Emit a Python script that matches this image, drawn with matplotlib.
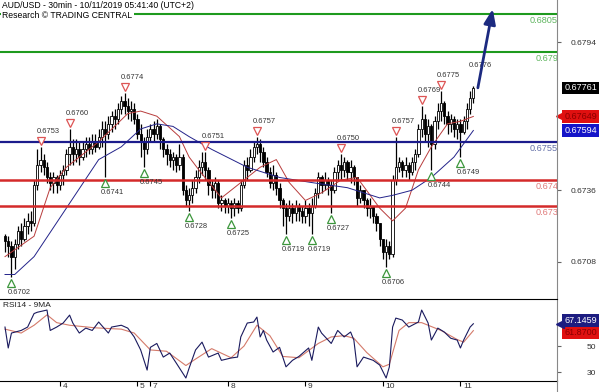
import matplotlib
matplotlib.use('Agg')
import matplotlib.pyplot as plt
import numpy as np
from matplotlib.transforms import offset_copy, ScaledTranslation
from matplotlib.lines import Line2D

plt.rcParams['font.family'] = ['Liberation Sans', 'DejaVu Sans']

TITLE = 'AUD/USD - 30min - 10/11/2019 05:41:40 (UTC+2)'
SOURCE = 'Research \u00a9 TRADING CENTRAL'

# price candles (one candle per ~hour of the 30min chart)
first_open = 0.6718
close = [0.6716, 0.6714, 0.6710, 0.6715, 0.6720, 0.6717, 0.6722, 0.6724, 0.6723, 0.6738,
         0.6746, 0.6748, 0.6745, 0.6741, 0.6739, 0.6741, 0.6738, 0.6742, 0.6744, 0.6750,
         0.6753, 0.6750, 0.6752, 0.6749, 0.6752, 0.6754, 0.6752, 0.6755, 0.6753, 0.6757,
         0.6760, 0.6758, 0.6762, 0.6765, 0.6764, 0.6768, 0.6771, 0.6769, 0.6767, 0.6768,
         0.6764, 0.6758, 0.6755, 0.6752, 0.6757, 0.6760, 0.6758, 0.6761, 0.6756, 0.6752,
         0.6750, 0.6748, 0.6749, 0.6746, 0.6749, 0.6736, 0.6732, 0.6734, 0.6737, 0.6741,
         0.6745, 0.6747, 0.6744, 0.6738, 0.6736, 0.6739, 0.6731, 0.6732, 0.6730, 0.6731,
         0.6729, 0.6731, 0.6729, 0.6738, 0.6746, 0.6744, 0.6749, 0.6753, 0.6754, 0.6751,
         0.6747, 0.6743, 0.6739, 0.6742, 0.6737, 0.6732, 0.6729, 0.6726, 0.6729, 0.6727,
         0.6730, 0.6728, 0.6726, 0.6729, 0.6727, 0.6730, 0.6735, 0.6741, 0.6738, 0.6740,
         0.6738, 0.6736, 0.6743, 0.6746, 0.6744, 0.6747, 0.6743, 0.6745, 0.6741, 0.6733,
         0.6736, 0.6732, 0.6729, 0.6730, 0.6726, 0.6723, 0.6717, 0.6712, 0.6714, 0.6711,
         0.6740, 0.6745, 0.6747, 0.6744, 0.6746, 0.6743, 0.6747, 0.6750, 0.6760, 0.6764,
         0.6758, 0.6761, 0.6754, 0.6763, 0.6767, 0.6770, 0.6765, 0.6762, 0.6764, 0.6760,
         0.6762, 0.6759, 0.6763, 0.6768, 0.6772, 0.67761]
high = [0.6719, 0.6718, 0.6716, 0.6717, 0.6722, 0.6723, 0.6725, 0.6727, 0.6728, 0.6740,
        0.6752, 0.6753, 0.6750, 0.6747, 0.6743, 0.6743, 0.6742, 0.6744, 0.6746, 0.6752,
        0.6760, 0.6756, 0.6756, 0.6755, 0.6755, 0.6757, 0.6757, 0.6758, 0.6758, 0.6760,
        0.6763, 0.6763, 0.6765, 0.6767, 0.6768, 0.6770, 0.6773, 0.6774, 0.6772, 0.6771,
        0.6770, 0.6766, 0.6762, 0.6757, 0.6760, 0.6762, 0.6763, 0.6764, 0.6762, 0.6757,
        0.6754, 0.6752, 0.6751, 0.6750, 0.6754, 0.6750, 0.6738, 0.6737, 0.6740, 0.6744,
        0.6748, 0.6751, 0.6751, 0.6745, 0.6740, 0.6741, 0.6740, 0.6734, 0.6733, 0.6733,
        0.6732, 0.6733, 0.6732, 0.6740, 0.6748, 0.6749, 0.6752, 0.6755, 0.6757, 0.6756,
        0.6753, 0.6749, 0.6745, 0.6746, 0.6743, 0.6739, 0.6733, 0.6731, 0.6732, 0.6731,
        0.6732, 0.6731, 0.6730, 0.6732, 0.6731, 0.6733, 0.6737, 0.6743, 0.6742, 0.6743,
        0.6741, 0.6740, 0.6745, 0.6748, 0.6750, 0.6749, 0.6748, 0.6748, 0.6746, 0.6741,
        0.6738, 0.6736, 0.6733, 0.6733, 0.6730, 0.6727, 0.6723, 0.6717, 0.6717, 0.6716,
        0.6742, 0.6757, 0.6749, 0.6748, 0.6749, 0.6747, 0.6749, 0.6752, 0.6762, 0.6769,
        0.6766, 0.6764, 0.6762, 0.6765, 0.6770, 0.6775, 0.6771, 0.6767, 0.6766, 0.6765,
        0.6764, 0.6764, 0.6765, 0.6770, 0.6775, 0.6777]
low = [0.6712, 0.6710, 0.6702, 0.6705, 0.6713, 0.6714, 0.6716, 0.6719, 0.6720, 0.6722,
       0.6736, 0.6743, 0.6742, 0.6739, 0.6736, 0.6735, 0.6735, 0.6736, 0.6738, 0.6742,
       0.6746, 0.6746, 0.6747, 0.6746, 0.6748, 0.6749, 0.6750, 0.6750, 0.6751, 0.6752,
       0.6753, 0.6741, 0.6756, 0.6759, 0.6760, 0.6762, 0.6766, 0.6766, 0.6764, 0.6763,
       0.6762, 0.6756, 0.6749, 0.6745, 0.6750, 0.6755, 0.6755, 0.6756, 0.6752, 0.6749,
       0.6746, 0.6745, 0.6744, 0.6743, 0.6744, 0.6734, 0.6730, 0.6728, 0.6731, 0.6735,
       0.6739, 0.6742, 0.6740, 0.6734, 0.6733, 0.6733, 0.6729, 0.6728, 0.6727, 0.6727,
       0.6725, 0.6726, 0.6727, 0.6728, 0.6737, 0.6740, 0.6743, 0.6747, 0.6750, 0.6747,
       0.6745, 0.6741, 0.6737, 0.6736, 0.6734, 0.6729, 0.6722, 0.6719, 0.6724, 0.6723,
       0.6724, 0.6724, 0.6723, 0.6723, 0.6722, 0.6719, 0.6729, 0.6733, 0.6735, 0.6736,
       0.6734, 0.6727, 0.6735, 0.6740, 0.6740, 0.6741, 0.6740, 0.6739, 0.6738, 0.6730,
       0.6731, 0.6729, 0.6726, 0.6725, 0.6723, 0.6720, 0.6714, 0.6709, 0.6706, 0.6709,
       0.6710, 0.6738, 0.6743, 0.6741, 0.6741, 0.6740, 0.6742, 0.6744, 0.6749, 0.6757,
       0.6755, 0.6753, 0.6744, 0.6752, 0.6760, 0.6763, 0.6762, 0.6758, 0.6759, 0.6757,
       0.6756, 0.6749, 0.6758, 0.6760, 0.6766, 0.6770]

# moving averages drawn on the price panel
ma_red_idx = [0, 9, 14, 19, 29, 38, 42, 47, 54, 57, 60, 67, 79, 84, 88, 93, 98, 104,
              109, 116, 120, 124, 128, 132, 137, 141, 145]
ma_red_val = [0.6710, 0.6718, 0.6737, 0.6745, 0.6755, 0.6766, 0.6767, 0.6765, 0.6757,
              0.6749, 0.6744, 0.6733, 0.6745, 0.6748, 0.6739, 0.6732, 0.6735, 0.6740,
              0.6741, 0.6729, 0.6724, 0.6729, 0.6744, 0.6753, 0.6762, 0.6763, 0.67649]
ma_blue_idx = [0, 3, 9, 19, 29, 36, 42, 47, 52, 57, 64, 75, 85, 95, 106, 116, 120, 126,
               132, 139, 145]
ma_blue_val = [0.6703, 0.6703, 0.6710, 0.6729, 0.6748, 0.6753, 0.6760, 0.6762, 0.6761,
               0.6757, 0.6752, 0.6745, 0.6741, 0.6739, 0.6737, 0.6733, 0.6734, 0.6736,
               0.6741, 0.6749, 0.67594]

# swing highs / lows marked on the chart
peak_idx = [11, 20, 37, 62, 78, 104, 121, 129, 135]
peak_val = [0.6753, 0.6760, 0.6774, 0.6751, 0.6757, 0.6750, 0.6757, 0.6769, 0.6775]
trough_idx = [2, 31, 43, 57, 70, 87, 95, 101, 118, 132, 141]
trough_val = [0.6702, 0.6741, 0.6745, 0.6728, 0.6725, 0.6719, 0.6719, 0.6727, 0.6706,
              0.6744, 0.6749]
last_label = '0.6776'

# key levels
res_levels = [0.6805, 0.6790]
pivot = 0.6755
sup_levels = [0.6740, 0.6730]
target = 0.6807

# RSI(14) and its 9-period average
rsi_idx = [0, 1, 2, 5, 7, 9, 10, 13, 14, 16, 18, 20, 21, 23, 25, 27, 29, 32, 33, 36,
           38, 40, 42, 44, 45, 47, 49, 51, 53, 56, 57, 59, 61, 63, 66, 67, 70, 72, 73,
           75, 77, 78, 79, 80, 81, 83, 85, 87, 89, 91, 94, 95, 97, 98, 101, 103, 105,
           107, 108, 109, 111, 114, 116, 118, 119, 120, 121, 123, 125, 128, 129, 131,
           132, 134, 136, 138, 140, 141, 142, 144, 145]
rsi_val = [64.6, 48.5, 60, 62, 64.6, 75, 76, 77.7, 62, 64.6, 67.7, 73.8, 67.7, 60, 63.8,
           62, 68.5, 60, 64.6, 66, 63.8, 57, 47, 31.5, 49, 52, 41.5, 44.6, 37, 25.4, 33,
           47, 53, 41.5, 44.6, 39, 40.8, 41.5, 57, 67.7, 68.5, 72.3, 57, 62, 54.6, 45.4,
           49, 34, 39, 42, 48.5, 39, 64.6, 60, 52, 62, 57, 60.8, 54.6, 34, 41.5, 39,
           35.4, 25.4, 34, 64.6, 71.5, 70, 64.6, 68.5, 77.7, 67.7, 54.6, 63.8, 60.8, 56,
           54.6, 48.5, 54.6, 64.6, 67.1459]
rsi_ma_idx = [0, 5, 9, 13, 16, 20, 28, 36, 40, 45, 50, 56, 59, 64, 70, 74, 78, 82, 86,
              91, 97, 101, 105, 108, 112, 117, 119, 122, 125, 129, 135, 140, 142, 145]
rsi_ma_val = [63, 60, 66, 74, 68, 66, 64, 63, 60, 47, 46, 35, 40, 48, 41, 50, 66, 58,
              42, 41, 52, 57, 58, 56, 45, 34, 36, 62, 68, 68, 62, 55, 53, 61.87]

price_ticks = [0.6794, 0.6736, 0.6708]
rsi_ticks = [30, 50]
day_idx = [17, 41, 45, 69, 93, 117, 141]
day_lbl = ['4', '5', '7', '8', '9', '10', '11']


def level_text(v):
    return ('%.4f' % v).rstrip('0')


fig = plt.figure(figsize=(6, 3.92), dpi=100)
ax = fig.add_axes([0, 0.2385, 557 / 600, 0.7615])
ax2 = fig.add_axes([0, 0.02806, 557 / 600, 0.2092])

# candles
c = np.array(close)
o = np.array([first_open] + close[:-1])
idx = np.arange(len(c))
up = c >= o
ax.vlines(idx, low, high, color='black', lw=0.9, zorder=2)
ax.bar(idx[up], (c - o)[up], bottom=o[up], width=0.7, color='white',
       edgecolor='black', lw=0.6, zorder=2)
ax.bar(idx[~up], (o - c)[~up], bottom=c[~up], width=0.7, color='black',
       edgecolor='black', lw=0.6, zorder=2)

ax.plot(ma_red_idx, ma_red_val, color='#b83c3c', lw=0.7, zorder=3)
ax.plot(ma_blue_idx, ma_blue_val, color='#23238a', lw=0.7, zorder=3)

for v in res_levels:
    ax.axhline(v, color='#1e9a1e', lw=1.5, zorder=4)
ax.axhline(pivot, color='#1c1c8c', lw=1.6, zorder=4)
for v in sup_levels:
    ax.axhline(v, color='#d42a2a', lw=1.8, zorder=4)

# level labels, right aligned under each line
yax = ax.get_yaxis_transform()
lbl_down = offset_copy(yax, fig=fig, y=-2, units='dots')
for v in res_levels:
    ax.text(1.002, v, level_text(v), transform=lbl_down, color='#5fb55f', fontsize=6.6,
            va='top', ha='right', clip_on=True, zorder=5)
ax.text(1.002, pivot, level_text(pivot), transform=lbl_down, color='#6470a8',
        fontsize=6.6, va='top', ha='right', clip_on=True, zorder=5)
for v in sup_levels:
    ax.text(1.002, v, level_text(v), transform=lbl_down, color='#e07a7a', fontsize=6.6,
            va='top', ha='right', clip_on=True, zorder=5)

# swing markers
tri_up = offset_copy(ax.transData, fig=fig, y=6, units='dots')
txt_up = offset_copy(ax.transData, fig=fig, x=-4, y=12, units='dots')
tri_dn = offset_copy(ax.transData, fig=fig, y=-6, units='dots')
txt_dn = offset_copy(ax.transData, fig=fig, x=-4, y=-12, units='dots')
for i, v in zip(peak_idx, peak_val):
    ax.plot(i, v, marker='v', ms=6, mfc='white', mec='#dd5555', mew=0.9,
            transform=tri_up, zorder=5)
    ax.text(i, v, '%.4f' % v, transform=txt_up, fontsize=5.4, color='#333333',
            ha='left', va='bottom', zorder=5)
for i, v in zip(trough_idx, trough_val):
    ax.plot(i, v, marker='^', ms=6, mfc='white', mec='#3c963c', mew=0.9,
            transform=tri_dn, zorder=5, clip_on=True)
    ax.text(i, v, '%.4f' % v, transform=txt_dn, fontsize=5.4, color='#333333',
            ha='left', va='top', zorder=5, clip_on=True)
ax.text(len(close) - 1, high[-1], last_label, transform=offset_copy(
    ax.transData, fig=fig, x=-5, y=17, units='dots'),
    fontsize=5.4, color='#333333', ha='left', va='bottom', zorder=5)

# projection arrow
ax.annotate('', xy=(151, target), xytext=(146.4, close[-1]),
            arrowprops=dict(arrowstyle='-|>,head_length=0.9,head_width=0.35',
                            lw=2, color='#1c2a80', shrinkA=0, shrinkB=0), zorder=6)

ax.set_xlim(-1.55, 170.9)
ax.set_ylim(0.66936, 0.68105)
ax.set_xticks([])
ax.yaxis.tick_right()
ax.set_yticks(price_ticks)
ax.set_yticklabels(['%.4f' % v for v in price_ticks], ha='right')
ax.tick_params(axis='y', direction='out', length=3, width=0.8, color='#666666',
               labelsize=6.1, labelcolor='#333333', pad=25.5)
for s in ['top', 'left', 'bottom']:
    ax.spines[s].set_visible(False)
ax.spines['right'].set_color('#888888')

# boxed current values on the price scale
ax.text(1.013, close[-1], '%.5f' % close[-1], transform=yax, fontsize=6.5,
        color='white', va='center', ha='left', clip_on=False,
        bbox=dict(boxstyle='square,pad=0.2', fc='black', ec='none'))
ax.plot([1.006], [ma_red_val[-1]], marker='<', ms=6, color='#e01010', transform=yax,
        clip_on=False)
ax.text(1.013, ma_red_val[-1], '%.5f' % ma_red_val[-1], transform=yax, fontsize=6.5,
        color='#8a0000', va='center', ha='left', clip_on=False,
        bbox=dict(boxstyle='square,pad=0.2', fc='#e01010', ec='none'))
ax.text(1.013, ma_blue_val[-1], '%.5f' % ma_blue_val[-1], transform=yax, fontsize=6.5,
        color='white', va='center', ha='left', clip_on=False,
        bbox=dict(boxstyle='square,pad=0.2', fc='#1414c8', ec='none'))

# RSI panel
ax2.plot(rsi_idx, rsi_val, color='#1a1a5e', lw=0.8, zorder=3)
ax2.plot(rsi_ma_idx, rsi_ma_val, color='#d47a6a', lw=0.8, zorder=2)
ax2.set_xlim(-1.55, 170.9)
ax2.set_ylim(23.1, 86.2)
ax2.yaxis.tick_right()
ax2.set_yticks(rsi_ticks)
ax2.set_yticklabels([str(v) for v in rsi_ticks], ha='right')
ax2.tick_params(axis='y', direction='out', length=3, width=0.8, color='#666666',
                labelsize=6.1, labelcolor='#333333', pad=25.5)
ax2.set_xticks(day_idx)
ax2.set_xticklabels(day_lbl, ha='left')
ax2.tick_params(axis='x', direction='out', length=3.5, width=0.8, labelsize=6,
                labelcolor='#333333', pad=-1.8)
shift = ScaledTranslation(0.025, 0, fig.dpi_scale_trans)
for lab in ax2.get_xticklabels():
    lab.set_transform(lab.get_transform() + shift)
ax2.spines['left'].set_visible(False)
ax2.spines['right'].set_color('#888888')
ax2.text(0.005, 0.915, 'RSI14 - 9MA', transform=ax2.transAxes, fontsize=6,
         va='center', ha='left', color='#222222')

yax2 = ax2.get_yaxis_transform()
ax2.plot([1.006], [rsi_val[-1]], marker='<', ms=6, color='#1c1c80', transform=yax2,
         clip_on=False, zorder=6)
ax2.text(1.013, rsi_val[-1], '%.4f' % rsi_val[-1],
         transform=offset_copy(yax2, fig=fig, y=3, units='dots'), fontsize=6.5,
         color='white', va='center', ha='left', clip_on=False, zorder=6,
         bbox=dict(boxstyle='square,pad=0.2', fc='#1c1c80', ec='none'))
ax2.text(1.013, rsi_ma_val[-1], '%.4f' % rsi_ma_val[-1],
         transform=offset_copy(yax2, fig=fig, y=-2, units='dots'), fontsize=6.5,
         color='#8a0000', va='center', ha='left', clip_on=False, zorder=5,
         bbox=dict(boxstyle='square,pad=0.2', fc='#e01010', ec='none'))

fig.add_artist(Line2D([557 / 600, 557 / 600], [0, 0.03], color='#888888', lw=0.8))

fig.text(0.004, 1 - 6 / 392, TITLE, fontsize=6.2, va='center', ha='left')
fig.text(0.004, 1 - 16 / 392, SOURCE, fontsize=6.2, va='center', ha='left',
         bbox=dict(boxstyle='square,pad=0.15', fc='white', ec='none'))

fig.savefig('out.png', dpi=100)
